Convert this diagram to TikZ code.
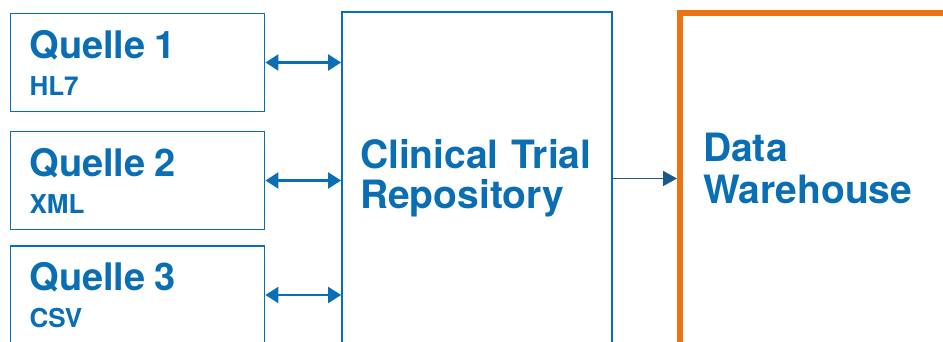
\documentclass[tikz,border=0pt]{standalone}
\usepackage{fontspec}
\setmainfont{TeX Gyre Heros}
\usepackage{tikz}
\usetikzlibrary{arrows.meta}
\usepackage{xcolor}
\definecolor{ctblue}{HTML}{0A6EB4}
\definecolor{ctdark}{HTML}{17598A}
\definecolor{ctorange}{HTML}{EE7212}

\begin{document}
\begin{tikzpicture}[x=1pt,y=1pt,line cap=butt,
  src/.style={draw=ctblue,line width=1.8pt,minimum width=254pt,minimum height=98pt,
    inner xsep=19pt,text width=216pt,align=left,text=ctblue,
    font=\bfseries\fontsize{26}{37}\selectfont},
  repo/.style={draw=ctblue,line width=1.8pt,minimum width=270pt,minimum height=333pt,
    inner xsep=18pt,text width=234pt,align=left,text=ctblue,
    font=\bfseries\fontsize{39}{40}\selectfont},
  dwh/.style={draw=ctorange,line width=6pt,minimum width=320pt,minimum height=332pt,
    inner xsep=23pt,text width=274pt,text depth=64pt,align=left,text=ctblue,
    font=\bfseries\fontsize{39}{42}\selectfont},
  biarr/.style={{Triangle[length=13pt,width=16pt]}-{Triangle[length=13pt,width=16pt]},
    draw=ctblue,line width=2.2pt},
  fwdarr/.style={-{Triangle[length=14pt,width=15pt]},draw=ctdark,line width=1.6pt}]
\useasboundingbox (0,0) rectangle (943,342);
\clip (0,0) rectangle (943,342);
% Quellen
\node[src] (q1) at (137.5,279.5) {{\fontsize{38}{37}\selectfont Quelle 1}\\HL7};
\node[src] (q2) at (137.5,161.5) {{\fontsize{38}{37}\selectfont Quelle 2}\\XML};
\node[src] (q3) at (137.5,47) {{\fontsize{38}{37}\selectfont Quelle 3}\\CSV};
% Repository und Warehouse
\node[repo] (ctr) at (477,163.5) {Clinical Trial\\Repository};
\node[dwh] (dw) at (840,163) {Data\\Warehouse};
% Verbindungen
\draw[biarr] (q1.east) -- (q1.east -| ctr.west);
\draw[biarr] (q2.east) -- (q2.east -| ctr.west);
\draw[biarr] (q3.east) -- (q3.east -| ctr.west);
\draw[fwdarr] (ctr.east) -- (ctr.east -| dw.west);
\end{tikzpicture}
\end{document}
